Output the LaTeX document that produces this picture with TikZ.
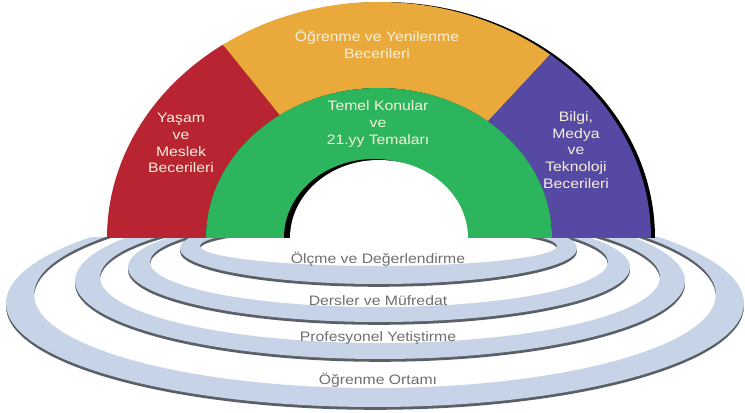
\documentclass[tikz,border=0pt]{standalone}
\usepackage{fontspec}
\setmainfont{Liberation Sans}
\usetikzlibrary{positioning}
\definecolor{skillred}{HTML}{B82432}
\definecolor{skillorange}{HTML}{E9AA3B}
\definecolor{skillgreen}{HTML}{2DB55D}
\definecolor{skillpurple}{HTML}{5649A3}
\definecolor{ringfill}{HTML}{C7D4E8}
\definecolor{ringdark}{HTML}{5B6066}
\definecolor{ringtext}{HTML}{6E6E6E}
\definecolor{cream}{HTML}{F6F0DC}
\tikzset{
  lbl/.style={text=#1,font=\fontsize{7.8}{9.6}\selectfont,align=center,xscale=1.15,
    inner sep=0pt},
  lbl/.default=cream,
  shadow/.style={fill=black},
}

\begin{document}
\begin{tikzpicture}[x=0.02cm,y=0.02cm]
    \useasboundingbox (0,0) rectangle (745,413);
    % support rings under the base line
    \begin{scope}
      \clip (0,0) rectangle (745,175);
      \foreach \cx/\yo/\rxo/\ryo/\yi/\rxi/\ryi in {375/109.7/369/103.7/118.6/341/93.6,
          380/132.1/305/78.1/135.8/280/65.8, 379/145.7/251/54.7/151.1/229/45.1,
          378.5/164.4/198.5/35.4/167/178.5/20}{
        \fill[ringdark,even odd rule] (\cx,\yo-2.8) ellipse[x radius=\rxo,y radius=\ryo]
          (\cx,\yi-2.8) ellipse[x radius=\rxi,y radius=\ryi];
        \fill[ringfill,even odd rule] (\cx,\yo) ellipse[x radius=\rxo,y radius=\ryo]
          (\cx,\yi) ellipse[x radius=\rxi,y radius=\ryi];
      }
    \end{scope}
    % the arch
    \begin{scope}[shift={(379,175)}]
      \def\ra{272} \def\rb{236} \def\ga{173} \def\gb{150}
      \fill[shadow] (\ra+4,0) arc[start angle=0,end angle=180,x radius=\ra,y radius=\rb] -- cycle;
      \fill[skillred] (-\ra,0) arc[start angle=180,end angle=125,x radius=\ra,y radius=\rb]
        -- ({\ga*cos(125)},{\gb*sin(125)}) arc[start angle=125,end angle=180,x radius=\ga,y radius=\gb] -- cycle;
      \fill[skillorange] ({\ra*cos(125)},{\rb*sin(125)}) arc[start angle=125,end angle=51,x radius=\ra,y radius=\rb]
        -- ({\ga*cos(51)},{\gb*sin(51)}) arc[start angle=51,end angle=125,x radius=\ga,y radius=\gb] -- cycle;
      \fill[skillpurple] ({\ra*cos(51)},{\rb*sin(51)}) arc[start angle=51,end angle=0,x radius=\ra,y radius=\rb]
        -- (\ga,0) arc[start angle=0,end angle=51,x radius=\ga,y radius=\gb] -- cycle;
      \fill[skillgreen] (\ga,0) arc[start angle=0,end angle=180,x radius=\ga,y radius=\gb] -- cycle;
      \fill[shadow] (85,0) arc[start angle=0,end angle=180,x radius=90,y radius=79] -- cycle;
      \fill[white] (89,0) arc[start angle=0,end angle=180,x radius=89,y radius=78] -- cycle;
    \end{scope}
    \node[lbl] (learn) at (377,369) {Öğrenme ve Yenilenme\\Becerileri};
    \node[lbl] (life) at (181,270) {Yaşam\\ve\\Meslek\\Becerileri};
    \node[lbl] (core) at (378,289) {Temel Konular\\ve\\21.yy Temaları};
    \node[lbl] (info) at (576,263) {Bilgi,\\Medya\\ve\\Teknoloji\\Becerileri};
    \node[lbl=ringtext] (assess) at (378,154) {Ölçme ve Değerlendirme};
    \node[lbl=ringtext] (curric) at (378,112) {Dersler ve Müfredat};
    \node[lbl=ringtext] (profdev) at (378,75) {Profesyonel Yetiştirme};
    \node[lbl=ringtext] (env) at (378,33) {Öğrenme Ortamı};
\end{tikzpicture}
\end{document}
